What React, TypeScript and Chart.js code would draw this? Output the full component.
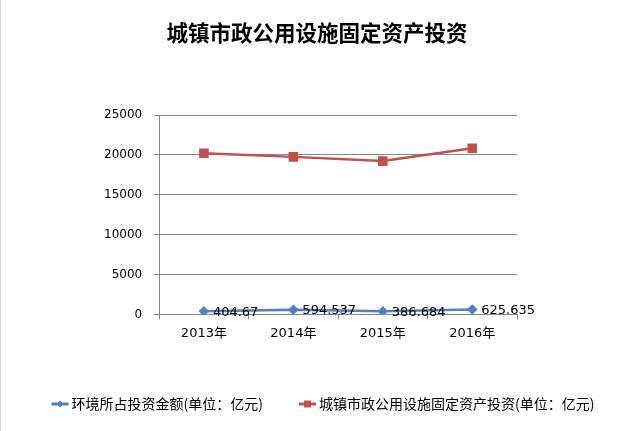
import { useEffect, useRef } from "react";
import { Chart, registerables, Plugin } from "chart.js";

Chart.register(...registerables);

const years = ["2013年", "2014年", "2015年", "2016年"];
const envInvest = [404.67, 594.537, 386.684, 625.635];
const municipalInvest = [20200, 19750, 19220, 20830];
const yTicks = [0, 5000, 10000, 15000, 20000, 25000];
const chartTitle = "城镇市政公用设施固定资产投资";
const seriesNames = [
  "环境所占投资金额(单位：亿元)",
  "城镇市政公用设施固定资产投资(单位：亿元)",
];
const seriesColors = ["#4F81BD", "#C0504D"];

const FONT = "'DejaVu Sans', 'Noto Sans CJK SC', sans-serif";
const CJK = "'Noto Sans CJK SC', 'DejaVu Sans', sans-serif";

/** Value labels to the right of the blue points. */
const valueLabels: Plugin<"line"> = {
  id: "valueLabels",
  afterDatasetsDraw(chart) {
    const ctx = chart.ctx;
    const meta = chart.getDatasetMeta(0);
    ctx.save();
    ctx.font = `13px ${FONT}`;
    ctx.fillStyle = "#000";
    ctx.textAlign = "left";
    ctx.textBaseline = "middle";
    meta.data.forEach((pt, i) => {
      ctx.fillText(String(envInvest[i]), pt.x + 9, pt.y + 1);
    });
    ctx.restore();
  },
};

/** Title centred on the whole canvas, not on the padded box. */
const pageTitle: Plugin<"line"> = {
  id: "pageTitle",
  afterDraw(chart) {
    const ctx = chart.ctx;
    ctx.save();
    ctx.font = `bold 21.5px ${CJK}`;
    ctx.fillStyle = "#000";
    ctx.textAlign = "center";
    ctx.textBaseline = "middle";
    ctx.fillText(chartTitle, chart.width / 2, 33);
    ctx.restore();
  },
};

function drawIcon(ctx: CanvasRenderingContext2D, x: number, y: number, i: number) {
  ctx.save();
  ctx.strokeStyle = seriesColors[i];
  ctx.fillStyle = seriesColors[i];
  ctx.lineWidth = 3;
  ctx.beginPath();
  ctx.moveTo(x, y);
  ctx.lineTo(x + 17, y);
  ctx.stroke();
  const cx = x + 8.5;
  if (i === 0) {
    ctx.beginPath();
    ctx.moveTo(cx, y - 3.5);
    ctx.lineTo(cx + 3.5, y);
    ctx.lineTo(cx, y + 3.5);
    ctx.lineTo(cx - 3.5, y);
    ctx.closePath();
    ctx.fill();
  } else {
    ctx.fillRect(cx - 3.5, y - 3.5, 7, 7);
  }
  ctx.restore();
}

/** Bottom legend: line + marker icon followed by the series name. */
const bottomLegend: Plugin<"line"> = {
  id: "bottomLegend",
  afterDraw(chart) {
    const ctx = chart.ctx;
    ctx.save();
    ctx.font = `14px ${CJK}`;
    ctx.fillStyle = "#000";
    ctx.textBaseline = "middle";
    ctx.textAlign = "left";
    const iconW = 17;
    const gapIcon = 3;
    const gapItem = 36;
    const widths = seriesNames.map((s) => ctx.measureText(s).width);
    const total =
      widths.reduce((a, b) => a + b, 0) + (iconW + gapIcon) * 2 + gapItem;
    let x = chart.width / 2 + 6 - total / 2;
    const y = 404;
    seriesNames.forEach((name, i) => {
      drawIcon(ctx, x, y, i);
      x += iconW + gapIcon;
      ctx.fillText(name, x, y);
      x += widths[i] + gapItem;
    });
    ctx.restore();
  },
};

export default function App() {
  const canvasRef = useRef<HTMLCanvasElement>(null);
  const chartRef = useRef<Chart | null>(null);

  useEffect(() => {
    document.body.style.margin = "0";
    const el = canvasRef.current;
    if (!el) return;
    chartRef.current?.destroy();

    chartRef.current = new Chart(el, {
      type: "line",
      data: {
        labels: years,
        datasets: [
          {
            label: seriesNames[0],
            data: envInvest,
            borderColor: seriesColors[0],
            backgroundColor: seriesColors[0],
            pointStyle: "rectRot",
            pointRadius: 3.5,
            borderWidth: 2.5,
            tension: 0,
          },
          {
            label: seriesNames[1],
            data: municipalInvest,
            borderColor: seriesColors[1],
            backgroundColor: seriesColors[1],
            pointStyle: "rect",
            pointRadius: 5,
            borderWidth: 2.5,
            tension: 0,
          },
        ],
      },
      options: {
        responsive: false,
        animation: false,
        layout: { padding: { left: 91, right: 116, top: 115, bottom: 84 } },
        plugins: {
          legend: { display: false },
          tooltip: { enabled: false },
          title: { display: false },
        },
        scales: {
          x: {
            offset: true,
            grid: {
              offset: true,
              drawOnChartArea: false,
              tickLength: 5,
              color: "#868686",
            },
            border: { display: true, color: "#868686" },
            ticks: { color: "#000", font: { family: FONT, size: 13 }, padding: 6 },
          },
          y: {
            min: yTicks[0],
            max: yTicks[yTicks.length - 1],
            afterBuildTicks: (scale) => {
              scale.ticks = yTicks.map((v) => ({ value: v }));
            },
            grid: { color: "#868686", tickLength: 5 },
            border: { display: true, color: "#868686" },
            ticks: {
              color: "#000",
              font: { family: FONT, size: 12 },
              padding: 12,
              callback: (v) => String(v),
            },
          },
        },
      },
      plugins: [valueLabels, pageTitle, bottomLegend],
    });

    return () => {
      chartRef.current?.destroy();
      chartRef.current = null;
    };
  }, []);

  return (
    <div style={{ width: 633, height: 431, boxSizing: "border-box", borderLeft: "1px solid #d9d9d9", background: "#fff" }}>
      <canvas ref={canvasRef} width={632} height={431} />
    </div>
  );
}
